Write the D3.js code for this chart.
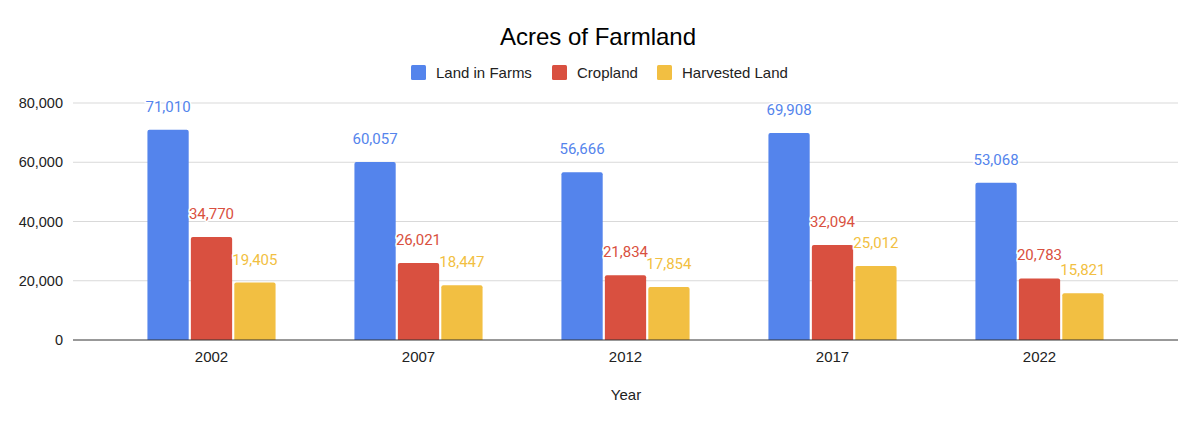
<!DOCTYPE html>
<html>
<head>
<meta charset="utf-8">
<script src="https://cdn.jsdelivr.net/npm/d3@7"></script>
<style>
  body { margin: 0; background: #fff; }
  svg { display: block; font-family: "Liberation Sans", Arial, sans-serif; }
</style>
</head>
<body>
<div id="chart"></div>
<script>
// Chart data
const years = ['2002', '2007', '2012', '2017', '2022'];
const seriesNames = ['Land in Farms', 'Cropland', 'Harvested Land'];
const landInFarms = [71010, 60057, 56666, 69908, 53068];
const cropland = [34770, 26021, 21834, 32094, 20783];
const harvestedLand = [19405, 18447, 17854, 25012, 15821];
const yTicks = [0, 20000, 40000, 60000, 80000];

const colors = ['#5484ec', '#d95040', '#f2bf42'];
const seriesValues = [landInFarms, cropland, harvestedLand];

const width = 1200;
const height = 425;
const plot = { left: 73, right: 1178, top: 103, bottom: 340 };
const axisFont = '"Liberation Sans", Arial, sans-serif';
const labelFont = 'Roboto, "Liberation Sans", Arial, sans-serif';

const svg = d3.select('#chart')
  .append('svg')
  .attr('width', width)
  .attr('height', height);

// Scales
const x = d3.scaleBand()
  .domain(years)
  .range([108, 1143])
  .paddingInner(0.36)
  .paddingOuter(0.18);

const xSeries = d3.scaleBand()
  .domain(seriesNames)
  .range([0, x.bandwidth()])
  .padding(0.05);

const y = d3.scaleLinear()
  .domain([0, 80000])
  .range([plot.bottom, plot.top]);

// Gridlines
svg.append('g')
  .selectAll('line')
  .data(yTicks.slice(1))
  .join('line')
  .attr('x1', plot.left)
  .attr('x2', plot.right)
  .attr('y1', d => y(d))
  .attr('y2', d => y(d))
  .attr('stroke', '#d9d9d9')
  .attr('stroke-width', 1);

// Y axis labels
const yAxis = d3.axisLeft(y)
  .tickValues(yTicks)
  .tickFormat(d3.format(','))
  .tickSize(0)
  .tickPadding(10);

svg.append('g')
  .attr('transform', `translate(${plot.left},0)`)
  .call(yAxis)
  .call(g => g.select('.domain').remove())
  .call(g => g.selectAll('text')
    .attr('font-size', 14.5)
    .attr('fill', '#222')
    .attr('font-family', axisFont));

// Bars
const groups = svg.append('g')
  .selectAll('g')
  .data(years)
  .join('g')
  .attr('transform', d => `translate(${x(d)},0)`);

seriesNames.forEach((name, si) => {
  groups.append('path')
    .attr('fill', colors[si])
    .attr('d', (d, i) => {
      const x0 = xSeries(name);
      const w = xSeries.bandwidth();
      const top = y(seriesValues[si][i]);
      const r = 2;
      return `M${x0},${plot.bottom} V${top + r} Q${x0},${top} ${x0 + r},${top} H${x0 + w - r} Q${x0 + w},${top} ${x0 + w},${top + r} V${plot.bottom} Z`;
    });
});

// Value labels
seriesNames.forEach((name, si) => {
  groups.append('text')
    .attr('x', xSeries(name) + xSeries.bandwidth() / 2)
    .attr('y', (d, i) => y(seriesValues[si][i]) - 18)
    .attr('text-anchor', 'middle')
    .attr('font-family', labelFont)
    .attr('font-size', 15)
    .attr('fill', colors[si])
    .attr('stroke', '#fff')
    .attr('stroke-width', 3)
    .attr('paint-order', 'stroke')
    .text((d, i) => d3.format(',')(seriesValues[si][i]));
});

// Baseline
svg.append('line')
  .attr('x1', plot.left)
  .attr('x2', plot.right)
  .attr('y1', plot.bottom)
  .attr('y2', plot.bottom)
  .attr('stroke', '#333')
  .attr('stroke-width', 1);

// X axis labels
const xAxis = d3.axisBottom(x).tickSize(0).tickPadding(11);
svg.append('g')
  .attr('transform', `translate(0,${plot.bottom})`)
  .call(xAxis)
  .call(g => g.select('.domain').remove())
  .call(g => g.selectAll('text')
    .attr('font-size', 15)
    .attr('fill', '#222')
    .attr('font-family', axisFont));

// Axis title
svg.append('text')
  .attr('x', 626)
  .attr('y', 400)
  .attr('text-anchor', 'middle')
  .attr('font-size', 15)
  .attr('fill', '#222')
  .text('Year');

// Chart title
svg.append('text')
  .attr('x', 598)
  .attr('y', 45)
  .attr('text-anchor', 'middle')
  .attr('font-size', 24)
  .attr('fill', '#000')
  .text('Acres of Farmland');

// Legend
const legendX = [411, 552, 657];
const legend = svg.append('g')
  .selectAll('g')
  .data(seriesNames)
  .join('g')
  .attr('transform', (d, i) => `translate(${legendX[i]},65)`);

legend.append('rect')
  .attr('width', 15)
  .attr('height', 15)
  .attr('rx', 1.5)
  .attr('fill', (d, i) => colors[i]);

legend.append('text')
  .attr('x', 25)
  .attr('y', 13)
  .attr('font-size', 15)
  .attr('fill', '#222')
  .text(d => d);
</script>
</body>
</html>
